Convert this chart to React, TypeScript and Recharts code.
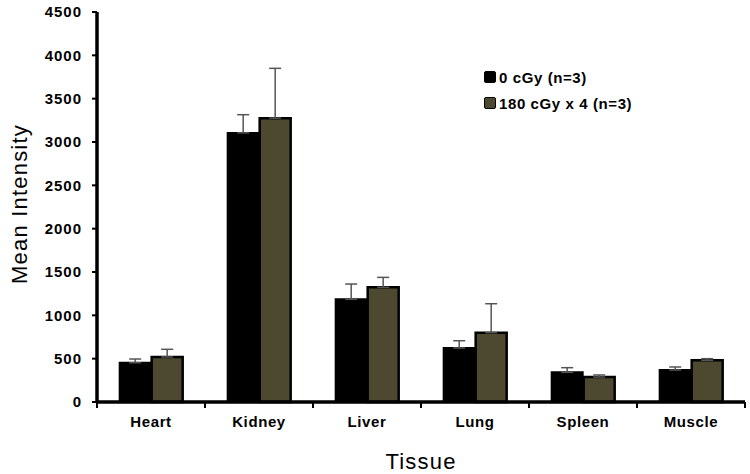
import React from "react";
import { BarChart, Bar, XAxis, YAxis, ErrorBar, Label } from "recharts";

const tissues = ["Heart", "Kidney", "Liver", "Lung", "Spleen", "Muscle"];
const controlMean = [453, 3105, 1185, 623, 342, 369];
const controlErr = [43, 210, 176, 84, 54, 35];
const irradiatedMean = [519, 3275, 1323, 800, 288, 481];
const irradiatedErr = [89, 575, 115, 334, 24, 19];
const yTicks = [0, 500, 1000, 1500, 2000, 2500, 3000, 3500, 4000, 4500];

const data = tissues.map((t, i) => ({
  tissue: t,
  control: controlMean[i],
  controlErr: [0, controlErr[i]],
  irradiated: irradiatedMean[i],
  irradiatedErr: [0, irradiatedErr[i]],
}));

const FONT = "Arial, 'Liberation Sans', sans-serif";
const OLIVE = "#4d4830";

const legendItems = [
  { label: "0 cGy (n=3)", color: "#000000" },
  { label: "180 cGy x 4 (n=3)", color: OLIVE },
];

const YTitle = (props: any) => {
  const { viewBox } = props;
  const cy = viewBox.y + viewBox.height / 2 - 3;
  return (
    <text
      x={19}
      y={cy}
      transform={`rotate(-90, 19, ${cy})`}
      textAnchor="middle"
      dominantBaseline="central"
      style={{ fontFamily: FONT, fontSize: 22, letterSpacing: 1.2, fill: "#000" }}
    >
      Mean Intensity
    </text>
  );
};

// category label plus tick marks on the band boundaries
const TissueTick = (props: any) => {
  const { x, y, payload, index, visibleTicksCount } = props;
  const half = payload.offset || 0;
  const axisY = y - 14;
  const last = index === (visibleTicksCount ?? tissues.length) - 1;
  return (
    <g>
      <line x1={x - half} x2={x - half} y1={axisY} y2={axisY + 6} stroke="#000" strokeWidth={2} />
      {last && (
        <line x1={x + half} x2={x + half} y1={axisY} y2={axisY + 6} stroke="#000" strokeWidth={2} />
      )}
      <text
        x={x}
        y={y}
        dy="0.71em"
        textAnchor="middle"
        style={{ fontFamily: FONT, fontSize: 15, fontWeight: "bold", letterSpacing: 0.6, fill: "#000" }}
      >
        {payload.value}
      </text>
    </g>
  );
};

export default function App() {
  return (
    <div style={{ position: "absolute", left: 0, top: 0, width: 750, height: 474, background: "#fff" }}>
      <BarChart
        width={750}
        height={474}
        data={data}
        margin={{ top: 12, right: 5, bottom: 0, left: 0 }}
        barCategoryGap="21%"
        barGap={1}
      >
        <XAxis
          dataKey="tissue"
          height={72}
          axisLine={{ stroke: "#000", strokeWidth: 3.5 }}
          tickLine={false}
          tickSize={0}
          tickMargin={14}
          interval={0}
          tick={<TissueTick />}
        >
          <Label
            value="Tissue"
            position="insideBottom"
            offset={5}
            style={{ fontFamily: FONT, fontSize: 22, letterSpacing: 1.2, fill: "#000" }}
          />
        </XAxis>
        <YAxis
          width={97}
          domain={[0, 4500]}
          ticks={yTicks}
          interval={0}
          tickSize={5}
          tickMargin={10}
          tickLine={{ stroke: "#000", strokeWidth: 2 }}
          axisLine={{ stroke: "#000", strokeWidth: 3.5 }}
          tick={{ fontFamily: FONT, fontSize: 15, fontWeight: "bold", letterSpacing: 1, fill: "#000" }}
        >
          <Label content={<YTitle />} />
        </YAxis>
        <Bar dataKey="control" fill="#000" stroke="#000" strokeWidth={2} isAnimationActive={false}>
          <ErrorBar dataKey="controlErr" direction="y" width={6} stroke="#555" strokeWidth={1.5} />
        </Bar>
        <Bar dataKey="irradiated" fill={OLIVE} stroke="#000" strokeWidth={2.5} isAnimationActive={false}>
          <ErrorBar dataKey="irradiatedErr" direction="y" width={6} stroke="#555" strokeWidth={1.5} />
        </Bar>
      </BarChart>
      <div
        style={{
          position: "absolute",
          left: 484,
          top: 64,
          fontFamily: FONT,
          fontWeight: "bold",
          fontSize: 15,
          letterSpacing: 0.6,
        }}
      >
        {legendItems.map((it) => (
          <div key={it.label} style={{ display: "flex", alignItems: "center", height: 26 }}>
            <span
              style={{
                display: "inline-block",
                width: 10,
                height: 10,
                background: it.color,
                border: "1.5px solid #000",
                borderRadius: 2,
                marginRight: 3,
              }}
            />
            <span>{it.label}</span>
          </div>
        ))}
      </div>
    </div>
  );
}
